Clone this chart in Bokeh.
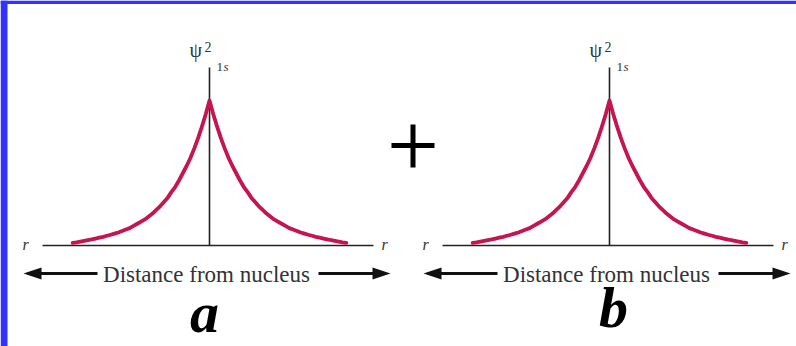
from bokeh.plotting import figure
from bokeh.models import Range1d
from bokeh.core.properties import value
from bokeh.embed import file_html
from bokeh.resources import INLINE

# ---- data (r in units of the decay length, psi^2 normalised to 1 at r=0)
r_half = [0.0, 0.1, 0.2, 0.3, 0.4, 0.5, 0.6, 0.7, 0.8, 0.9, 1.0, 1.1, 1.2, 1.3, 1.4, 1.5, 1.6, 1.7,
          1.8, 1.9, 2.0, 2.1, 2.2, 2.3, 2.4, 2.5, 2.6, 2.7, 2.8, 2.9, 3.0, 3.1, 3.2, 3.3, 3.4, 3.5, 3.6]
psi2_half = [1.00, 0.905, 0.82, 0.74, 0.67, 0.605, 0.55, 0.50, 0.45, 0.405, 0.37, 0.33, 0.30, 0.27,
             0.245, 0.22, 0.20, 0.18, 0.165, 0.15, 0.135, 0.12, 0.11, 0.10, 0.09, 0.082, 0.074, 0.067,
             0.06, 0.054, 0.048, 0.042, 0.037, 0.032, 0.027, 0.022, 0.018]
panel_labels = ["a", "b"]
panel_label_baselines = [332, 327]          # px from top
panel_label_centers = [204, 613]            # px from left
distance_label = "Distance from nucleus"
end_label = "r"
psi_main, psi_sup, psi_sub_num, psi_sub_s = "\u03c8", "2", "1", "s"

# ---- layout (pixel geometry of the page)
W, H = 796, 346
PX_PER_R = 38.0
PX_PER_PSI = 145.0
ORIGIN_X = 209
ORIGIN_Y = 245
PANEL_SHIFT = 400
BASE_SHIFT = 0.35   # compensation of the svg text baseline, in em

CURVE = "#C6145256"[:7]
INK = "#222222"
BLUE = "#3333FF"
SERIF = value("Liberation Serif")


def X(px):
    return (px - ORIGIN_X) / PX_PER_R


def Y(py):
    return (ORIGIN_Y - py) / PX_PER_PSI


def TY(py, size):
    return Y(py - BASE_SHIFT * size)


p = figure(width=W, height=H, x_range=Range1d(X(0), X(W)), y_range=Range1d(Y(H), Y(0)),
           output_backend="svg", toolbar_location=None, min_border=0,
           x_axis_type=None, y_axis_type=None)
p.grid.visible = False
p.outline_line_color = None
p.background_fill_color = "white"
p.border_fill_color = "white"

# blue frame (left and top)
p.quad(left=[X(0)], right=[X(7)], top=[Y(0)], bottom=[Y(H)], color=BLUE, line_color=None)
p.quad(left=[X(0)], right=[X(W)], top=[Y(0)], bottom=[Y(3.5)], color=BLUE, line_color=None)

for i, lab in enumerate(panel_labels):
    s = i * PANEL_SHIFT
    c = X(ORIGIN_X + s)
    # curve (mirrored about r = 0)
    xs = [c - r for r in reversed(r_half)] + [c + r for r in r_half[1:]]
    ys = list(reversed(psi2_half)) + psi2_half[1:]
    # axes
    p.segment(x0=[X(42 + s)], y0=[0], x1=[X(373 + s)], y1=[0], line_color=INK, line_width=1.6)
    p.segment(x0=[c], y0=[0], x1=[c], y1=[Y(67)], line_color=INK, line_width=1.6)
    p.line(xs, ys, line_color=CURVE, line_width=3.8, line_join="round", line_cap="round")
    # r labels
    p.text(x=[X(25 + s), X(384 + s)], y=[TY(250, 16), TY(250, 16)], text=[end_label, end_label],
           text_font=SERIF, text_font_style="italic", text_font_size="16px",
           text_align="center", text_baseline="alphabetic", text_color="#333333")
    # psi^2_1s label
    p.text(x=[X(189 + s)], y=[TY(56, 20)], text=[psi_main], text_font=SERIF, text_font_size="20px",
           text_align="left", text_baseline="alphabetic", text_color="#333333")
    p.text(x=[X(204 + s)], y=[TY(51, 14)], text=[psi_sup], text_font=SERIF, text_font_size="14px",
           text_align="left", text_baseline="alphabetic", text_color="#333333")
    p.text(x=[X(216 + s)], y=[TY(71, 13)], text=[psi_sub_num], text_font=SERIF, text_font_size="13px",
           text_align="left", text_baseline="alphabetic", text_color="#333333")
    p.text(x=[X(223 + s)], y=[TY(71, 13)], text=[psi_sub_s], text_font=SERIF, text_font_size="13px",
           text_font_style="italic", text_align="left", text_baseline="alphabetic", text_color="#333333")
    # distance arrow
    ya = Y(273)
    p.segment(x0=[X(36 + s), X(318 + s)], y0=[ya, ya], x1=[X(97 + s), X(378 + s)], y1=[ya, ya],
              line_color="#111111", line_width=3.2)
    p.patches(xs=[[X(23 + s), X(41 + s), X(41 + s)], [X(390 + s), X(372 + s), X(372 + s)]],
              ys=[[ya, Y(267), Y(279)], [ya, Y(267), Y(279)]], color="#111111", line_color=None)
    p.text(x=[X(206 + s)], y=[TY(282, 23)], text=[distance_label], text_font=SERIF, text_font_size="23px",
           text_align="center", text_baseline="alphabetic", text_color="#333333")
    # panel letter
    p.text(x=[X(panel_label_centers[i])], y=[TY(panel_label_baselines[i], 58)], text=[lab], text_font=SERIF,
           text_font_size="58px", text_font_style="bold italic", text_align="center",
           text_baseline="alphabetic", text_color="black")

# plus sign between panels
p.segment(x0=[X(391), X(412.5)], y0=[Y(145), Y(124)], x1=[X(434), X(412.5)], y1=[Y(145), Y(167)],
          line_color="black", line_width=5)

open("out.html", "w").write(file_html(p, INLINE))
